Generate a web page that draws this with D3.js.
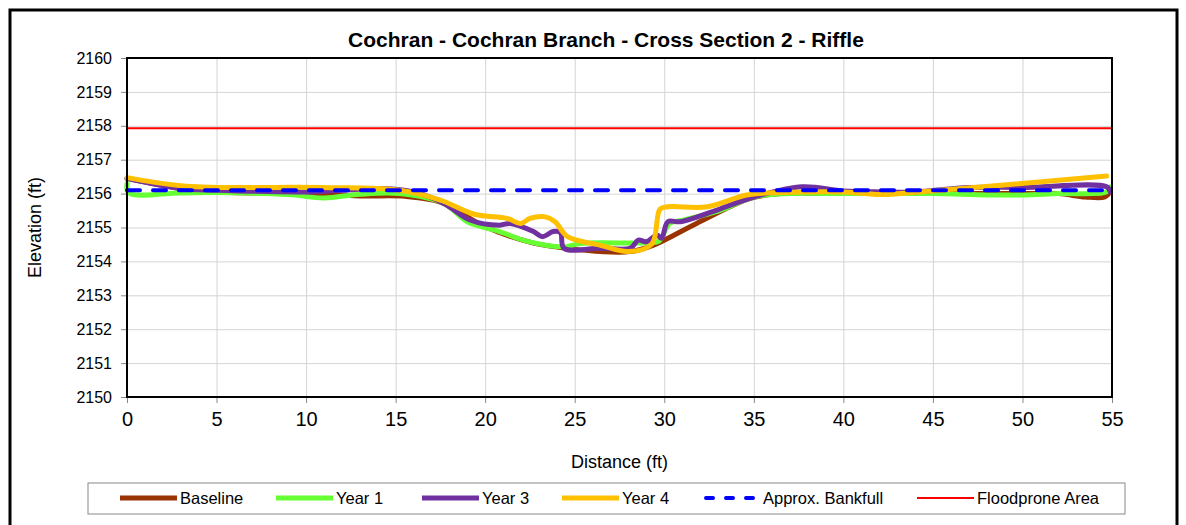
<!DOCTYPE html>
<html>
<head>
<meta charset="utf-8">
<script src="https://cdn.jsdelivr.net/npm/d3@7"></script>
<style>
  body { margin: 0; background: #fff; font-family: "Liberation Sans", Arial, sans-serif; }
  .grid line { stroke: #d4d4d4; stroke-width: 1; }
  .grid path { display: none; }
  .axis path { display: none; }
  .axis line { stroke: #888; }
  .series { fill: none; stroke-linejoin: round; stroke-linecap: round; }
</style>
</head>
<body>
<div id="chart"></div>
<script>
// Distance (ft) / elevation (ft) pairs.
const baselineX = [0, 3, 5, 10, 13, 15.5, 17.5, 20, 22.7, 25.3, 26.4, 28.1, 29.4, 31.8, 34.8, 36.5, 40, 45, 50, 52, 53.5, 54.6, 54.9];
const baselineY = [2156.45, 2156.15, 2156.05, 2156.0, 2155.93, 2155.92, 2155.75, 2155.02, 2154.54, 2154.34, 2154.29, 2154.29, 2154.48, 2155.12, 2155.86, 2156.0, 2156.0, 2156.0, 2156.0, 2156.0, 2155.9, 2155.9, 2156.05];

const year1X = [0, 0.1, 3, 5, 9, 11, 13, 15.2, 17.7, 19.0, 20.8, 22.3, 24.5, 25.3, 29.0, 29.7, 30.3, 30.9, 33.1, 35.0, 37, 40, 45, 48, 50, 52, 54.7, 54.9];
const year1Y = [2156.3, 2156.02, 2156.02, 2156.03, 2155.97, 2155.87, 2155.98, 2156.0, 2155.71, 2155.17, 2154.88, 2154.6, 2154.43, 2154.53, 2154.55, 2154.6, 2155.12, 2155.2, 2155.5, 2155.9, 2156.0, 2156.0, 2156.0, 2155.96, 2155.96, 2156.0, 2156.05, 2156.2];

const year3X = [0, 3, 5, 10, 12, 14.3, 16, 17.7, 19.15, 20.8, 21.4, 22.7, 23.2, 23.8, 24.2, 24.4, 26.4, 28.1, 28.55, 29.0, 29.6, 29.85, 30.2, 30.9, 32.7, 35.0, 37.7, 40, 42, 44, 47, 50, 54.7, 54.9];
const year3Y = [2156.45, 2156.15, 2156.1, 2156.05, 2156.1, 2156.15, 2156.05, 2155.71, 2155.22, 2155.07, 2155.12, 2154.88, 2154.73, 2154.88, 2154.85, 2154.39, 2154.39, 2154.39, 2154.63, 2154.58, 2154.78, 2154.68, 2155.17, 2155.17, 2155.47, 2155.9, 2156.2, 2156.08, 2156.05, 2156.05, 2156.18, 2156.18, 2156.2, 2156.05];

const year4X = [0, 3.3, 10.8, 15.2, 17.5, 19.4, 21.2, 22.0, 22.5, 23.3, 23.9, 24.6, 26.4, 28.0, 29.3, 29.76, 30.2, 32.4, 34.6, 36.5, 40, 42.2, 43.2, 54.7];
const year4Y = [2156.47, 2156.22, 2156.18, 2156.1, 2155.81, 2155.39, 2155.27, 2155.12, 2155.27, 2155.32, 2155.17, 2154.73, 2154.48, 2154.29, 2154.51, 2155.54, 2155.61, 2155.61, 2155.96, 2156.03, 2156.05, 2155.97, 2156.0, 2156.52];

const bankfullX = [0, 55];
const bankfullY = [2156.1, 2156.1];
const floodproneX = [0, 55];
const floodproneY = [2157.93, 2157.93];

const xTicks = [0, 5, 10, 15, 20, 25, 30, 35, 40, 45, 50, 55];
const yTicks = [2150, 2151, 2152, 2153, 2154, 2155, 2156, 2157, 2158, 2159, 2160];

const series = [
  { name: 'Baseline', xs: baselineX, ys: baselineY, color: '#993300', width: 5, dash: null, curve: true },
  { name: 'Year 1', xs: year1X, ys: year1Y, color: '#66FF33', width: 5, dash: null, curve: true },
  { name: 'Year 3', xs: year3X, ys: year3Y, color: '#7030A0', width: 5, dash: null, curve: true },
  { name: 'Year 4', xs: year4X, ys: year4Y, color: '#FFC000', width: 5, dash: null, curve: true },
  { name: 'Approx. Bankfull', xs: bankfullX, ys: bankfullY, color: '#0000FF', width: 4, dash: '13,13', curve: false },
  { name: 'Floodprone Area', xs: floodproneX, ys: floodproneY, color: '#FF0000', width: 2, dash: null, curve: false }
];

const W = 1186, H = 525;
const margin = { top: 58, right: 74, bottom: 128, left: 127 };
const width = W - margin.left - margin.right,
  height = H - margin.top - margin.bottom;

const svg = d3.select('#chart').append('svg')
  .attr('width', W)
  .attr('height', H);

// Outer chart frame.
svg.append('rect')
  .attr('x', 10).attr('y', 10)
  .attr('width', 1167).attr('height', 540)
  .attr('fill', 'none')
  .attr('stroke', '#000')
  .attr('stroke-width', 3);

const plot = svg.append('g')
  .attr('transform', 'translate(' + margin.left + ',' + margin.top + ')');

const xScale = d3.scaleLinear().domain([0, 55]).range([0, width]);
const yScale = d3.scaleLinear().domain([2150, 2160]).range([height, 0]);

// Gridlines.
plot.append('g')
  .attr('class', 'grid')
  .call(d3.axisLeft(yScale).tickValues(yTicks).tickSize(-width).tickFormat(''));
plot.append('g')
  .attr('class', 'grid')
  .attr('transform', 'translate(0,' + height + ')')
  .call(d3.axisBottom(xScale).tickValues(xTicks).tickSize(-height).tickFormat(''));

// Axes.
const yAxis = plot.append('g')
  .attr('class', 'axis')
  .call(d3.axisLeft(yScale).tickValues(yTicks).tickSize(6).tickPadding(9).tickFormat(d3.format('d')));
yAxis.selectAll('text')
  .attr('font-size', 16)
  .attr('font-family', '"Liberation Sans", Arial, sans-serif')
  .attr('fill', '#000');

const xAxis = plot.append('g')
  .attr('class', 'axis')
  .attr('transform', 'translate(0,' + height + ')')
  .call(d3.axisBottom(xScale).tickValues(xTicks).tickSize(6).tickPadding(9));
xAxis.selectAll('text')
  .attr('font-size', 20)
  .attr('font-family', '"Liberation Sans", Arial, sans-serif')
  .attr('fill', '#000');

// Lines.
series.forEach(function(s) {
  const pts = s.xs.map(function(x, i) { return [x, s.ys[i]]; });
  const line = d3.line()
    .x(function(d) { return xScale(d[0]); })
    .y(function(d) { return yScale(d[1]); })
    .curve(s.curve ? d3.curveCatmullRom.alpha(0.5) : d3.curveLinear);
  plot.append('path')
    .datum(pts)
    .attr('class', 'series')
    .attr('d', line)
    .attr('stroke', s.color)
    .attr('stroke-width', s.width)
    .attr('stroke-linecap', s.dash ? 'butt' : 'round')
    .attr('stroke-dasharray', s.dash);
});

// Plot border.
plot.append('rect')
  .attr('width', width).attr('height', height)
  .attr('fill', 'none')
  .attr('stroke', '#000')
  .attr('stroke-width', 2);

// Titles.
svg.append('text')
  .attr('x', 606).attr('y', 47)
  .attr('text-anchor', 'middle')
  .attr('font-size', 21).attr('font-weight', 'bold')
  .text('Cochran - Cochran Branch - Cross Section 2 - Riffle');

svg.append('text')
  .attr('x', margin.left + width / 2).attr('y', 468)
  .attr('text-anchor', 'middle')
  .attr('font-size', 18)
  .text('Distance (ft)');

svg.append('text')
  .attr('transform', 'translate(41,' + (margin.top + height / 2) + ') rotate(-90)')
  .attr('text-anchor', 'middle')
  .attr('font-size', 18)
  .text('Elevation (ft)');

// Legend.
const legend = svg.append('g');
legend.append('rect')
  .attr('x', 88).attr('y', 483)
  .attr('width', 1037).attr('height', 31)
  .attr('fill', '#fff')
  .attr('stroke', '#888')
  .attr('stroke-width', 1);

const legendX = [120, 276, 422, 562, 703, 917];
series.forEach(function(s, i) {
  const g = legend.append('g').attr('transform', 'translate(' + legendX[i] + ',498)');
  g.append('line')
    .attr('x1', 0).attr('x2', 57)
    .attr('y1', 0).attr('y2', 0)
    .attr('stroke', s.color)
    .attr('stroke-width', s.width)
    .attr('stroke-linecap', s.dash ? 'round' : 'butt')
    .attr('stroke-dasharray', s.dash ? '7,13' : null)
    .attr('transform', s.dash ? 'translate(3,0)' : null);
  g.append('text')
    .attr('x', 60).attr('y', 6)
    .attr('font-size', 16.5)
    .text(s.name);
});
</script>
</body>
</html>
